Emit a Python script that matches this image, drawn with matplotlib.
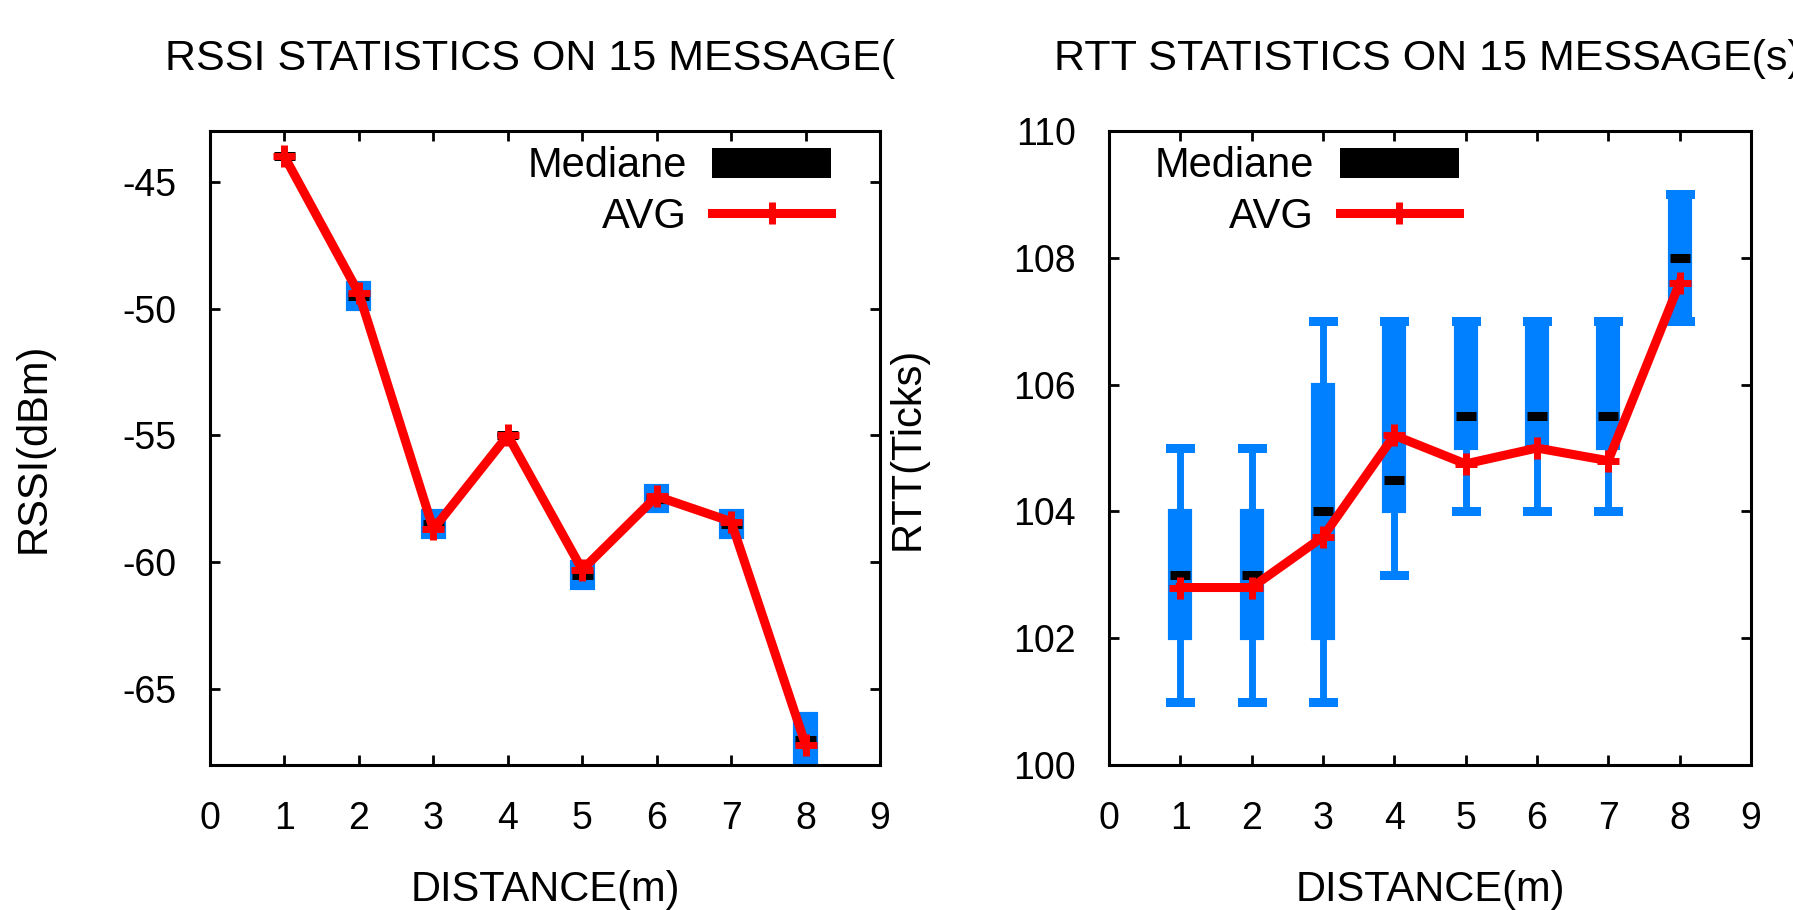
import matplotlib
matplotlib.use("Agg")
import matplotlib.pyplot as plt
from matplotlib.patches import Patch
from matplotlib.lines import Line2D

plt.rcParams['font.family'] = ['Liberation Sans', 'DejaVu Sans']
plt.rcParams['axes.unicode_minus'] = False

# --- data ---
distance = [1, 2, 3, 4, 5, 6, 7, 8]

rssi_low = [-44, -50, -59, -55, -61, -58, -59, -69]
rssi_high = [-44, -49, -58, -55, -60, -57, -58, -66]
rssi_med = [-44, -49.5, -58.5, -55, -60.5, -57.5, -58.5, -67]
rssi_avg = [-44, -49.4, -58.7, -55, -60.3, -57.4, -58.4, -67.2]

rtt_q1 = [102, 102, 102, 104, 105, 105, 105, 107]
rtt_q3 = [104, 104, 106, 107, 107, 107, 107, 109]
rtt_med = [103, 103, 104, 104.5, 105.5, 105.5, 105.5, 108]
rtt_min = [101, 101, 101, 103, 104, 104, 104, 107]
rtt_max = [105, 105, 107, 107, 107, 107, 107, 109]
rtt_avg = [102.8, 102.8, 103.6, 105.2, 104.75, 105.0, 104.8, 107.6]

BLUE = '#0080ff'
RED = '#ff0000'
TICK_FS = 27
TEXT_FS = 30
LINE_W = 6.5


def make_stats(q1, q3, med, lo, hi):
    return [dict(q1=a, q3=b, med=m, whislo=l, whishi=h, fliers=[])
            for a, b, m, l, h in zip(q1, q3, med, lo, hi)]


def draw_panel(ax, stats, avg, caps):
    w = 0.28
    ax.bxp(stats, positions=distance, widths=w, capwidths=w,
           patch_artist=True, showcaps=caps, manage_ticks=False,
           boxprops=dict(facecolor=BLUE, edgecolor=BLUE, linewidth=3),
           whiskerprops=dict(color=BLUE, linewidth=5),
           capprops=dict(color=BLUE, linewidth=6.5),
           medianprops=dict(color='black', linewidth=6.5, zorder=3,
                            solid_capstyle='butt'))
    ax.plot(distance, avg, color=RED, linewidth=LINE_W, marker='+',
            markersize=16, markeredgewidth=5, zorder=4)

    ax.set_xlim(0, 9)
    ax.set_xticks(range(10))
    ax.tick_params(direction='in', length=7, width=2, top=True, right=True,
                   labelsize=TICK_FS)
    ax.tick_params(axis='x', pad=26)
    ax.tick_params(axis='y', pad=24)
    for s in ax.spines.values():
        s.set_linewidth(2.2)
    ax.set_xlabel('DISTANCE(m)', fontsize=TEXT_FS)
    ax.xaxis.set_label_coords(0.5, -0.165)

    handles = [Patch(facecolor='black', edgecolor='none'),
               Line2D([], [], color=RED, linewidth=LINE_W, marker='+',
                      markersize=16, markeredgewidth=5)]
    return handles


fig = plt.figure(figsize=(17.93, 9.10), dpi=100)
ax1 = fig.add_axes([0.1171, 0.1593, 0.3737, 0.6967])
ax2 = fig.add_axes([0.6185, 0.1593, 0.3580, 0.6967])

# --- RSSI ---
h = draw_panel(ax1, make_stats(rssi_low, rssi_high, rssi_med, rssi_low, rssi_high),
               rssi_avg, caps=False)
ax1.set_ylim(-68, -43)
ax1.set_yticks([-45, -50, -55, -60, -65])
ax1.set_ylabel('RSSI(dBm)', fontsize=TEXT_FS)
ax1.yaxis.set_label_coords(-0.233, 0.5)
ax1.legend(h, ['Mediane', 'AVG'], loc='upper right', bbox_to_anchor=(0.927, 0.976),
           frameon=False, markerfirst=False, fontsize=TEXT_FS, borderpad=0,
           borderaxespad=0, handlelength=2.85, handleheight=0.72,
           handletextpad=0.62, labelspacing=0.26)

# --- RTT ---
h = draw_panel(ax2, make_stats(rtt_q1, rtt_q3, rtt_med, rtt_min, rtt_max),
               rtt_avg, caps=True)
ax2.set_ylim(100, 110)
ax2.set_yticks(range(100, 111, 2))
ax2.set_ylabel('RTT(Ticks)', fontsize=TEXT_FS)
ax2.yaxis.set_label_coords(-0.283, 0.5)
ax2.legend(h, ['Mediane', 'AVG'], loc='upper right', bbox_to_anchor=(0.545, 0.976),
           frameon=False, markerfirst=False, fontsize=TEXT_FS, borderpad=0,
           borderaxespad=0, handlelength=2.85, handleheight=0.72,
           handletextpad=0.62, labelspacing=0.26)

# titles (the left one is cut in the original)
fig.text(165 / 1793, 1 - 70 / 910, 'RSSI STATISTICS ON 15 MESSAGE(',
         fontsize=31, ha='left', va='baseline')
fig.text(1054 / 1793, 1 - 70 / 910, 'RTT STATISTICS ON 15 MESSAGE(s)',
         fontsize=31, ha='left', va='baseline')

fig.savefig('out.png', dpi=100)
